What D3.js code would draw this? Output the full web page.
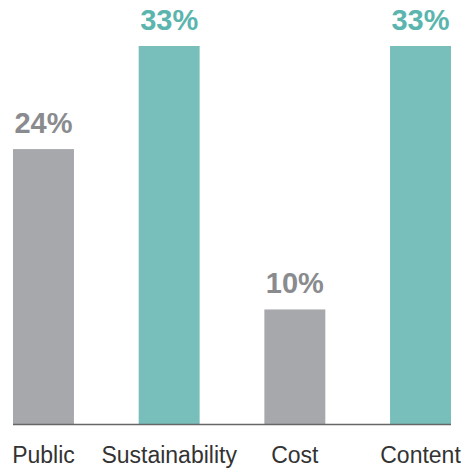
<!DOCTYPE html>
<html>
<head>
<meta charset="utf-8">
<script src="https://cdn.jsdelivr.net/npm/d3@7"></script>
<style>
  html, body { margin: 0; padding: 0; background: #fff; }
  svg { display: block; }
</style>
</head>
<body>
<svg id="chart" width="464" height="469"></svg>
<script>
const categories = ["Public", "Sustainability", "Cost", "Content"];
const values = [24, 33, 10, 33];
const valueLabels = ["24%", "33%", "10%", "33%"];
const highlight = [false, true, false, true];

const svg = d3.select("#chart");
const x = d3.scaleBand().domain(categories).range([13, 451]).paddingInner(0.515).paddingOuter(0);
const y = d3.scaleLinear().domain([0, 33]).range([424, 46]);

const barColor = i => highlight[i] ? "#78bfbb" : "#a7a8ab";
const textColor = i => highlight[i] ? "#5bb5ae" : "#8a8b8e";

svg.selectAll("rect.bar")
  .data(values)
  .enter().append("rect")
  .attr("class", "bar")
  .attr("x", (d, i) => x(categories[i]))
  .attr("y", d => y(d))
  .attr("width", x.bandwidth())
  .attr("height", d => y(0) - y(d))
  .attr("fill", (d, i) => barColor(i));

svg.selectAll("text.val")
  .data(values)
  .enter().append("text")
  .attr("class", "val")
  .attr("x", (d, i) => x(categories[i]) + x.bandwidth() / 2)
  .attr("y", d => y(d) - 16)
  .attr("text-anchor", "middle")
  .attr("font-family", "'Liberation Sans', Arial, sans-serif")
  .attr("font-weight", "bold")
  .attr("font-size", 29)
  .attr("fill", (d, i) => textColor(i))
  .text((d, i) => valueLabels[i]);

// baseline
svg.append("line")
  .attr("x1", x.range()[0]).attr("x2", x.range()[1])
  .attr("y1", y(0) + 0.5).attr("y2", y(0) + 0.5)
  .attr("stroke", "#666").attr("stroke-width", 1.3);

svg.selectAll("text.cat")
  .data(categories)
  .enter().append("text")
  .attr("class", "cat")
  .attr("x", d => x(d) + x.bandwidth() / 2)
  .attr("y", 463)
  .attr("text-anchor", "middle")
  .attr("font-family", "'Liberation Sans', Arial, sans-serif")
  .attr("font-size", 23)
  .attr("fill", "#333")
  .text(d => d);
</script>
</body>
</html>
